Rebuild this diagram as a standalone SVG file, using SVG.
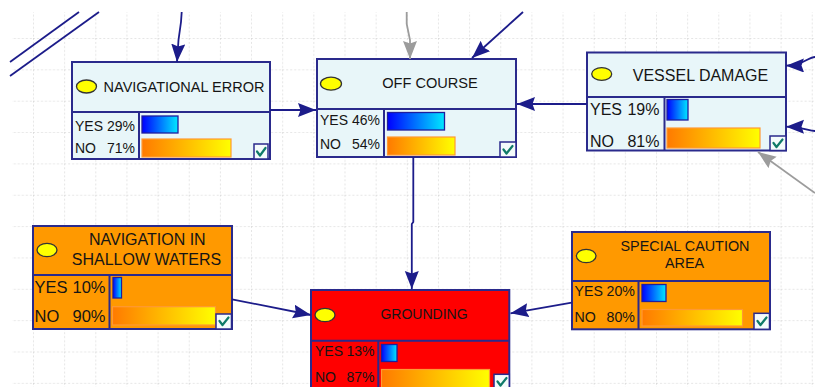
<svg xmlns="http://www.w3.org/2000/svg" width="815" height="387" viewBox="0 0 815 387">
<defs>
<pattern id="grid" patternUnits="userSpaceOnUse" x="33" y="38" width="31.15" height="31.35">
<path d="M0,0 V31.35 M0,0 H31.15" fill="none" stroke="#cbcbcb" stroke-width="1" stroke-dasharray="2,2"/>
</pattern>
<linearGradient id="gBlue" x1="0" y1="0" x2="1" y2="0">
<stop offset="0" stop-color="#0000ff"/><stop offset="1" stop-color="#00e8ff"/>
</linearGradient>
<linearGradient id="gOrange" x1="0" y1="0" x2="1" y2="0">
<stop offset="0" stop-color="#ff7a00"/><stop offset="1" stop-color="#ffff00"/>
</linearGradient>
<marker id="arrN" markerUnits="userSpaceOnUse" markerWidth="22" markerHeight="18" refX="18" refY="7" orient="auto">
<path d="M0,0 L18,7 L0,14 L2.5,7 z" fill="#1c1c8a"/>
</marker>
<marker id="arrG" markerUnits="userSpaceOnUse" markerWidth="22" markerHeight="18" refX="18" refY="7" orient="auto">
<path d="M0,0 L18,7 L0,14 L2.5,7 z" fill="#9c9c9c"/>
</marker>
</defs>
<style>
.box{stroke:#2a2a8c;stroke-width:2}
.light{fill:#e8f6f9}
.orange{fill:#ff9900}
.red{fill:#ff0000}
.div{stroke:#2a2a8c;stroke-width:2;fill:none}
.dot{fill:#ffff00;stroke:#333;stroke-width:1.3}
.bb{fill:url(#gBlue);stroke:#1e1e9e;stroke-width:1.3}
.ob{fill:url(#gOrange);stroke:#ff9933;stroke-width:1.2}
.chk{fill:#f4fbfb;stroke:#2a2a8c;stroke-width:1.5}
.tick{fill:none;stroke:#0f7a68;stroke-width:2.2;stroke-linecap:round;stroke-linejoin:round}
text{font-family:"Liberation Sans",Arial,sans-serif;fill:#151515}
.t{text-anchor:middle}
.e{text-anchor:end}
.cn{fill:none;stroke:#1c1c8a;stroke-width:1.8}
.cg{fill:none;stroke:#9c9c9c;stroke-width:1.8}
</style>
<rect x="0" y="0" width="815" height="387" fill="#ffffff"/>
<rect x="12" y="12" width="803" height="375" fill="url(#grid)"/>

<g id="navigational-error">
<rect class="box light" x="72" y="62" width="198" height="97"/>
<path class="div" d="M72,112 H270 M139,112 V159"/>
<ellipse class="dot" cx="86.5" cy="86.5" rx="10" ry="6.5"/>
<text class="t" x="184" y="92" font-size="14.5">NAVIGATIONAL ERROR</text>
<text x="75" y="131" font-size="14">YES<tspan class="e" x="135">29%</tspan></text>
<text x="75" y="153" font-size="14">NO<tspan class="e" x="135">71%</tspan></text>
<rect class="bb" x="142" y="116" width="36" height="17"/>
<rect class="ob" x="142" y="139" width="89" height="18"/>
<rect class="chk" x="254" y="144" width="14" height="15"/>
<path class="tick" d="M257,151.5 L260,155.5 L265.5,148"/>
</g>

<g id="off-course">
<rect class="box light" x="317" y="59" width="199" height="98"/>
<path class="div" d="M317,109 H516 M384,109 V157"/>
<ellipse class="dot" cx="331" cy="83.7" rx="10.5" ry="6.5"/>
<text class="t" x="430" y="88" font-size="14.6">OFF COURSE</text>
<text x="320" y="125" font-size="14">YES<tspan class="e" x="380">46%</tspan></text>
<text x="320" y="149" font-size="14">NO<tspan class="e" x="380">54%</tspan></text>
<rect class="bb" x="387.5" y="112.5" width="57" height="17.5"/>
<rect class="ob" x="387.5" y="137" width="67.5" height="18"/>
<rect class="chk" x="500" y="142" width="16" height="15"/>
<path class="tick" d="M503.5,149.5 L506.5,153.5 L512.5,146"/>
</g>

<g id="vessel-damage">
<rect class="box light" x="587" y="52.5" width="199" height="98"/>
<path class="div" d="M587,97 H786 M664.5,97 V150.5"/>
<ellipse class="dot" cx="601.7" cy="74" rx="10" ry="6.3"/>
<text class="t" x="700.5" y="81" font-size="16">VESSEL DAMAGE</text>
<text x="590" y="115" font-size="16">YES<tspan class="e" x="659.5">19%</tspan></text>
<text x="590" y="146.5" font-size="16">NO<tspan class="e" x="659.5">81%</tspan></text>
<rect class="bb" x="667" y="99.5" width="21" height="20.5"/>
<rect class="ob" x="667" y="128" width="93" height="20"/>
<rect class="chk" x="770" y="136" width="16" height="14.5"/>
<path class="tick" d="M773.5,143 L776.5,147 L782.5,139.5"/>
</g>

<g id="navigation-in-shallow-waters">
<rect class="box orange" x="33" y="226" width="199" height="103"/>
<path class="div" d="M33,275 H232 M109.5,275 V329"/>
<ellipse class="dot" cx="47" cy="250" rx="10" ry="6.7"/>
<text class="t" x="147.3" y="245" font-size="16">NAVIGATION IN</text>
<text class="t" x="146.5" y="265" font-size="16">SHALLOW WATERS</text>
<text x="34.5" y="293" font-size="16.5">YES<tspan class="e" x="105.5">10%</tspan></text>
<text x="34.5" y="322" font-size="16.5">NO<tspan class="e" x="105.5">90%</tspan></text>
<rect class="bb" x="113" y="277.5" width="8.5" height="20.5"/>
<rect class="ob" x="112.5" y="306.7" width="103" height="18.3"/>
<rect class="chk" x="216" y="314" width="15.5" height="15"/>
<path class="tick" d="M219.5,321 L222.5,325 L228.5,317.5"/>
</g>

<g id="grounding">
<rect class="box red" x="311" y="290" width="198.3" height="99"/>
<path class="div" d="M311,340.7 H509.3 M378.3,340.7 V389"/>
<ellipse class="dot" cx="325" cy="315" rx="10" ry="6.7"/>
<text class="t" x="424" y="319" font-size="14">GROUNDING</text>
<text x="315" y="356" font-size="14">YES<tspan class="e" x="374.5">13%</tspan></text>
<text x="315" y="381.7" font-size="14">NO<tspan class="e" x="374.5">87%</tspan></text>
<rect class="bb" x="381.5" y="344.5" width="15.5" height="17"/>
<rect class="ob" x="381.5" y="369.5" width="108" height="19"/>
<rect class="chk" x="494" y="374.3" width="15.3" height="15"/>
<path class="tick" d="M497.5,381.5 L500.5,385.5 L506.5,378"/>
</g>

<g id="special-caution-area">
<rect class="box orange" x="572" y="232" width="198" height="97.3"/>
<path class="div" d="M572,281 H770 M638.5,281 V329.3"/>
<ellipse class="dot" cx="586.2" cy="256" rx="9.8" ry="6.7"/>
<text class="t" x="685" y="250.7" font-size="14.4">SPECIAL CAUTION</text>
<text class="t" x="684.5" y="268.3" font-size="14.4">AREA</text>
<text x="574.5" y="296" font-size="14.2">YES<tspan class="e" x="635">20%</tspan></text>
<text x="574.5" y="321.7" font-size="14.2">NO<tspan class="e" x="635">80%</tspan></text>
<rect class="bb" x="642" y="284.5" width="24" height="17"/>
<rect class="ob" x="642" y="309.5" width="100.5" height="16.5"/>
<rect class="chk" x="754" y="313.3" width="15.5" height="16"/>
<path class="tick" d="M757.5,321 L760.5,325 L766.5,317.5"/>
</g>

<g id="connectors">
<path class="cn" d="M79,12 L10,62"/>
<path class="cn" d="M99,12 L10,76"/>
<path class="cn" d="M181.7,12 L181,22 L178.5,40 L177,62" marker-end="url(#arrN)"/>
<path class="cg" d="M406.7,12 L406.7,24 L410,40 L410,59" marker-end="url(#arrG)"/>
<path class="cn" d="M523,12 L472,58" marker-end="url(#arrN)"/>
<path class="cn" d="M270,110 L316,110" marker-end="url(#arrN)"/>
<path class="cn" d="M587,104 L517,104" marker-end="url(#arrN)"/>
<path class="cn" d="M815,57 C808,57 804,65.5 786,65.7" marker-end="url(#arrN)"/>
<path class="cn" d="M815,131 C808,131 804,126.7 786,126.7" marker-end="url(#arrN)"/>
<path class="cg" d="M815,193 L758,152" marker-end="url(#arrG)"/>
<path class="cn" d="M413.3,157 L413.3,222 L411.8,224 L411.8,289" marker-end="url(#arrN)"/>
<path class="cn" d="M232,299.3 L311,315" marker-end="url(#arrN)"/>
<path class="cn" d="M571.7,302.7 L510.5,313.3" marker-end="url(#arrN)"/>
</g>
</svg>
